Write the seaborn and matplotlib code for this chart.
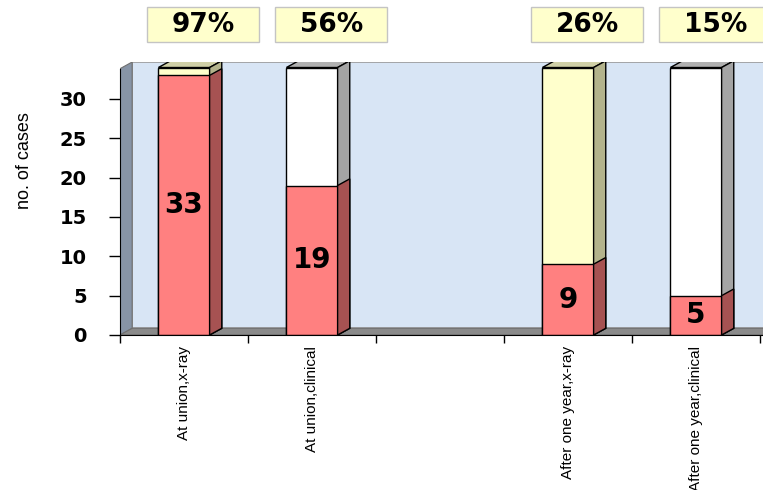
import numpy as np
import pandas as pd
import matplotlib
matplotlib.use("Agg")
import matplotlib.pyplot as plt
import seaborn as sns
from matplotlib.patches import Polygon, Rectangle

# data
categories = ["At union,x-ray", "At union,clinical", " ", "After one year,x-ray", "After one year,clinical"]
positive = [33, 19, 0, 9, 5]
total = [34, 34, 0, 34, 34]
percent_labels = ["97%", "56%", "", "26%", "15%"]

# styles
top_colors = ["#FFFFCC", "#FFFFFF", "#FFFFFF", "#FFFFCC", "#FFFFFF"]
red = "#FF8080"
side_shade = {"#FFFFCC": "#B3B38C", "#FFFFFF": "#A4A4A4", red: "#A65252"}
top_shade = {"#FFFFCC": "#CFCFA6", "#FFFFFF": "#B0B0B0"}
dx, dy = 0.095, 0.85
ymax = 34.7

df = pd.DataFrame({"cat": categories, "pos": positive, "tot": total})

fig = plt.figure(figsize=(7.63, 4.9), dpi=100)
ax = fig.add_axes([120 / 763, 155 / 490, 643 / 763, 273 / 490])
xmin, xmax = -0.5, -0.5 + 643 / 128

# walls and floor
ax.add_patch(Rectangle((xmin + dx, dy), xmax - xmin, ymax - dy, fc="#D8E5F5",
                       ec="#9A9A9A", lw=1.2, zorder=0.2))
ax.add_patch(Polygon([(xmin, 0), (xmin + dx, dy), (xmin + dx, ymax), (xmin, ymax - dy)],
                     closed=True, fc="#8794A6", ec="#707070", lw=0.8, zorder=0.3))
ax.add_patch(Polygon([(xmin, 0), (xmin + dx, dy), (xmax + 1, dy), (xmax + 1, 0)],
                     closed=True, fc="#8A8A8A", ec="#707070", lw=0.8, zorder=0.3))

sns.barplot(data=df, x="cat", y="tot", hue="cat", palette=dict(zip(categories, top_colors)),
            order=categories, width=0.4, edgecolor="black", linewidth=1.0,
            saturation=1, legend=False, ax=ax)
n_top = len(ax.containers)
sns.barplot(data=df, x="cat", y="pos", color=red, order=categories, width=0.4,
            edgecolor="black", linewidth=1.0, saturation=1, ax=ax)

# fake 3d faces built from the drawn bars
for ci, cont in enumerate(ax.containers):
    for p in cont.patches:
        h = p.get_height()
        if not np.isfinite(h) or h <= 0:
            p.set_visible(False)
            continue
        x0, w, y0 = p.get_x(), p.get_width(), p.get_y()
        fc = matplotlib.colors.to_hex(p.get_facecolor()).upper()
        if ci < n_top:
            ax.add_patch(Polygon([(x0, y0 + h), (x0 + dx, y0 + h + dy), (x0 + w + dx, y0 + h + dy),
                                  (x0 + w, y0 + h)], closed=True, fc=top_shade.get(fc, "#B0B0B0"),
                                 ec="black", lw=1.0, zorder=1.1))
            z = 1.1
        else:
            fc = red
            z = 1.3
            p.set_zorder(1.25)
        ax.add_patch(Polygon([(x0 + w, y0), (x0 + w + dx, y0 + dy), (x0 + w + dx, y0 + h + dy),
                              (x0 + w, y0 + h)], closed=True, fc=side_shade.get(fc, "#A4A4A4"),
                             ec="black", lw=1.0, zorder=z))

# numbers inside red bars and percentage boxes above
for i, (v, lab) in enumerate(zip(positive, percent_labels)):
    if v > 0:
        ax.text(i, v / 2, str(v), ha="center", va="center", fontsize=20,
                fontweight="bold", family="DejaVu Sans", zorder=3)
    if lab:
        ax.add_patch(Rectangle((i + 0.15 - 0.4375, 37.2), 0.875, 4.45, fc="#FFFFCC",
                               ec="#C4C4C4", lw=1.0, clip_on=False, zorder=3))
        ax.text(i + 0.15, 39.4, lab, ha="center", va="center", fontsize=19,
                fontweight="bold", family="DejaVu Sans", zorder=4, clip_on=False)

ax.set_xlim(xmin, xmax)
ax.set_ylim(0, ymax)
ax.set_yticks(range(0, 31, 5))
ax.set_yticklabels([str(t) for t in range(0, 31, 5)], fontsize=14, fontweight="bold",
                   family="DejaVu Sans")
ax.tick_params(axis="y", length=8, width=1, pad=16)
ax.set_xticks(range(len(categories)))
ax.set_xticklabels(categories, rotation=90, fontsize=11, family="Liberation Sans")
ax.set_xticks(np.arange(-0.5, len(categories), 1.0), minor=True)
ax.tick_params(axis="x", which="major", length=0, pad=8)
ax.tick_params(axis="x", which="minor", length=6, width=1)
ax.set_xlabel("")
ax.set_ylabel("no. of cases", fontsize=13, family="Liberation Sans")
ax.yaxis.set_label_coords(-0.135, 0.64)

for s in ["top", "right"]:
    ax.spines[s].set_visible(False)
ax.spines["left"].set_bounds(0, ymax - dy)
ax.spines["left"].set_color("black")
ax.spines["bottom"].set_color("black")
ax.patch.set_visible(False)

fig.savefig("out.png", dpi=100)
